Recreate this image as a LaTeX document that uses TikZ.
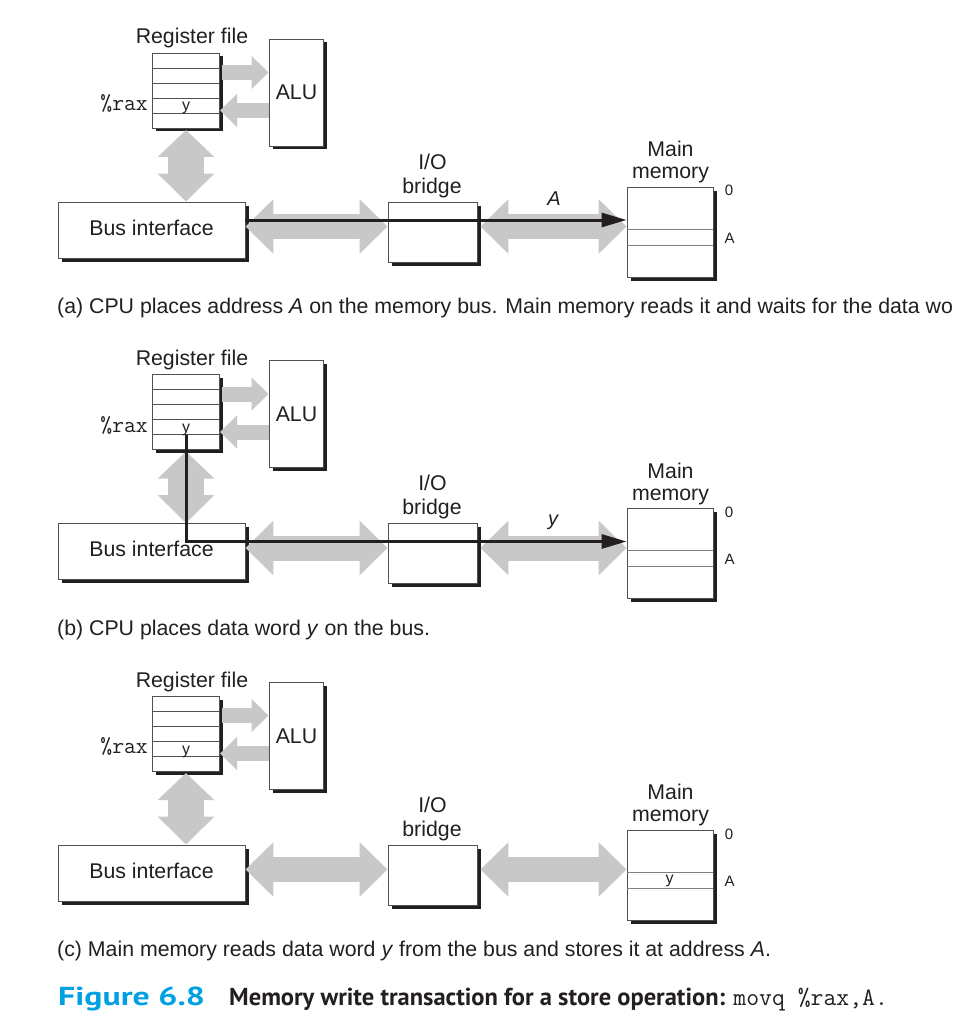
\documentclass[tikz,border=0pt]{standalone}
\usepackage{fontspec}
\setmainfont{Liberation Sans}
\newfontfamily\capfont{PT Sans}
\usetikzlibrary{arrows.meta,shadows}

\definecolor{ink}{HTML}{231F20}
\definecolor{busgray}{HTML}{C8C8C8}
\definecolor{edge}{HTML}{505050}
\definecolor{cellrule}{HTML}{808080}
\definecolor{figblue}{RGB}{0,160,227}

\tikzset{
  hwbox/.style={draw=edge, line width=0.9pt, fill=white, inner sep=0pt,
    general shadow={shadow xshift=3.5pt, shadow yshift=-3.5pt, fill=ink, draw=none}},
  rowline/.style={draw=edge, line width=0.9pt},
  memline/.style={draw=cellrule, line width=1pt},
  lbl/.style={inner sep=0pt, anchor=base, text=ink, font=\fontsize{21.3}{21.3}\selectfont},
  addrlbl/.style={inner sep=0pt, anchor=base, text=ink, font=\fontsize{15}{15}\selectfont},
  celllbl/.style={inner sep=0pt, anchor=base, text=ink, font=\fontsize{16}{16}\selectfont},
  raxlbl/.style={inner sep=0pt, anchor=base east, text=ink, font=\ttfamily\fontsize{23}{23}\selectfont},
  buslbl/.style={inner sep=0pt, anchor=base, text=ink, font=\itshape\fontsize{20}{20}\selectfont},
  caplbl/.style={inner sep=0pt, anchor=base west, text=ink, font=\fontsize{21.3}{21.3}\selectfont},
  wide bus/.style={draw=busgray, line width=25pt,
    {Triangle[length=28pt,width=53pt]}-{Triangle[length=28pt,width=53pt]}},
  riser bus/.style={draw=busgray, line width=36pt,
    {Triangle[length=27pt,width=55pt]}-{Triangle[length=28pt,width=55pt]}},
  alu bus/.style={draw=busgray, line width=15pt, -{Triangle[length=17pt,width=32pt]}},
  dataline/.style={draw=ink, line width=3pt, -{Triangle[length=25pt,width=14pt]}},
}

% One CPU/bus/memory panel; shared by the three stages
\newcommand\cpupanel{%
  \node[hwbox, minimum width=67pt, minimum height=75pt] (reg) at (185.5,90.5) {};
  \foreach \r in {68,83,98,113} \draw[rowline] (reg.west |- 0,\r) -- (reg.east |- 0,\r);
  \node[hwbox, minimum width=54pt, minimum height=107pt] (alu) at (296,92.5) {};
  \node[hwbox, minimum width=187pt, minimum height=56pt] (bus) at (151.5,230) {};
  \node[hwbox, minimum width=89pt, minimum height=60pt] (bridge) at (432.5,232) {};
  \node[hwbox, minimum width=86pt, minimum height=90pt] (mem) at (670,232) {};
  \draw[memline] (mem.west |- 0,229) -- (mem.east |- 0,229);
  \draw[memline] (mem.west |- 0,245) -- (mem.east |- 0,245);
  % labels
  \node[lbl] (regname) at (192,44) {Register file};
  \node[lbl] (aluname) at (296.5,100) {ALU};
  \node[lbl] (busname) at (151.5,235) {Bus interface};
  \node[lbl] (ioname) at (432.5,169.3) {I/O};
  \node[lbl] (bridgename) at (432,193.3) {bridge};
  \node[lbl] (mainname) at (670.5,156.7) {Main};
  \node[lbl] (memname) at (670.5,178.5) {memory};
  \node[addrlbl] (zero) at (729,196) {0};
  \node[addrlbl] (addrA) at (729.5,243) {A};
  \node[raxlbl] (rax) at (148,110.7) {\%rax};
  \node[celllbl] (ycell) at (186,111) {y};
  % gray buses
  \coordinate (r2a) at (222,72.5);
  \coordinate (a2r) at (220,110.5);
  \coordinate (vtop) at (186,130);
  \coordinate (bl) at (0,226.5);
  \coordinate (lineY) at (0,220);
  \draw[alu bus] (r2a) -- (alu.west |- r2a);
  \draw[alu bus] (alu.west |- a2r) -- (a2r);
  \draw[riser bus] (vtop) -- (vtop |- bus.north);
  \draw[wide bus] (bus.east |- bl) -- (bridge.west |- bl);
  \draw[wide bus] ([xshift=3pt]bridge.east |- bl) -- (mem.west |- bl);
}

\begin{document}
\begin{tikzpicture}[x=1pt,y=-1pt]
  \useasboundingbox (0,0) rectangle (954,1027);
  \fill[white] (0,0) rectangle (954,1027);

  % (a) address on the bus
  \begin{scope}[name prefix=a-]
    \cpupanel
    \draw[dataline] (bus.east |- lineY) -- (mem.west |- lineY);
    \node[buslbl] (what) at (554,205) {A};
    \node[caplbl] (cap) at (57,313.5)
      {(a) CPU places address \textit{A} on the memory bus. Main memory reads it and waits for the data wo};
  \end{scope}

  % (b) data word on the bus
  \begin{scope}[name prefix=b-, shift={(0,321.5)}]
    \cpupanel
    \coordinate (ysrc) at (186,113.5);
    \draw[dataline] (ysrc) |- (mem.west |- lineY);
    \node[buslbl] (what) at (553,203.5) {y};
    \node[caplbl] (cap) at (57,313.5)
      {(b) CPU places data word \textit{y} on the bus.};
  \end{scope}

  % (c) memory stores the word
  \begin{scope}[name prefix=c-, shift={(0,643)}]
    \cpupanel
    \node[celllbl] (ymem) at (669.5,240) {y};
    \node[caplbl] (cap) at (57,313.5)
      {(c) Main memory reads data word \textit{y} from the bus and stores it at address \textit{A}.};
  \end{scope}

  % figure caption: number, title, instruction
  \node[inner sep=0pt, anchor=base west, text=figblue,
        font=\capfont\bfseries\fontsize{26}{26}\selectfont] (fignum) at (58,1005)
    {\scalebox{1.3}[1]{Figure 6.8}};
  \node[inner sep=0pt, anchor=base west, text=ink,
        font=\capfont\bfseries\fontsize{24.5}{24.5}\selectfont] (figtitle) at (229,1005)
    {Memory write transaction for a store operation: {\mdseries\ttfamily\fontsize{25}{25}\selectfont movq \%rax,A.}};
\end{tikzpicture}
\end{document}
